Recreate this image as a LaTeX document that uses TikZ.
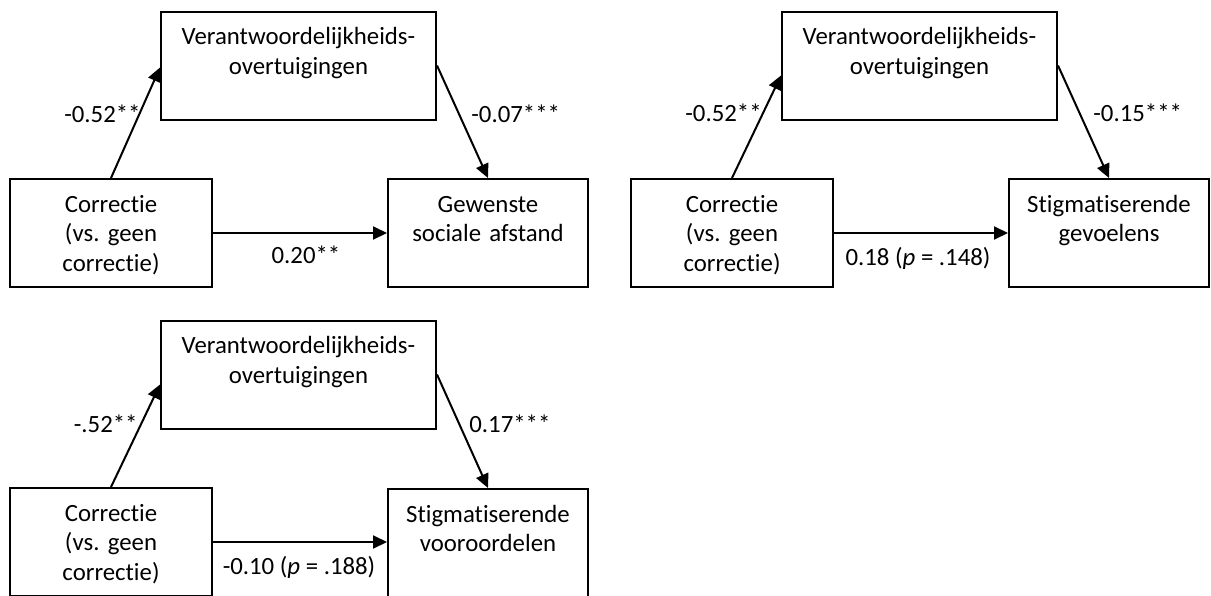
\documentclass[tikz,border=0pt]{standalone}
\usepackage{fontspec}
\setmainfont{Carlito}[Ligatures=NoCommon]
\frenchspacing
\usetikzlibrary{arrows.meta}

\begin{document}
\begin{tikzpicture}[x=0.5pt, y=-0.5pt,
    every node/.style={font=\fontsize{12.4}{14.8}\selectfont},
    varbox/.style={draw, line width=1pt, inner xsep=0pt, inner ysep=0pt, align=center,
        text height=16.5pt, text depth=37.5pt},
    coef/.style={inner sep=0pt, text height=8pt, text depth=0pt},
    effect/.style={line width=1pt, -{Triangle[length=7pt, width=6.5pt]}}]
    \useasboundingbox (0,0) rectangle (1211,595);
    \clip (0,0) rectangle (1211,595);

    \node[varbox, text width=137.5pt] (belief1) at (298.5,65.5) {Verantwoordelijkheids-\\overtuigingen};
    \node[varbox, text width=101pt] (corr1) at (111,233) {Correctie\\(vs. geen\\correctie)};
    \node[varbox, text width=100pt] (dist1) at (488,233) {Gewenste\\sociale afstand};
    \draw[effect] (corr1.north) -- ([yshift=-1pt]belief1.west);
    \draw[effect] (belief1.east) -- (dist1.north);
    \draw[effect] (corr1.east) -- (dist1.west);
    \node[coef, anchor=east] (a1) at (141,114) {-0.52**};
    \node[coef, anchor=west] (b1) at (471,114) {-0.07***};
    \node[coef] (c1) at (306,255) {0.20**};

    \node[varbox, text width=137.5pt] (belief2) at (919.5,65.5) {Verantwoordelijkheids-\\overtuigingen};
    \node[varbox, text width=101pt] (corr2) at (732,233) {Correctie\\(vs. geen\\correctie)};
    \node[varbox, text width=100pt] (feel2) at (1109,233) {Stigmatiserende\\gevoelens};
    \draw[effect] (corr2.north) -- ([yshift=-5pt]belief2.west);
    \draw[effect] (belief2.east) -- (feel2.north);
    \draw[effect] (corr2.east) -- (feel2.west);
    \node[coef, anchor=east] (a2) at (762,113) {-0.52**};
    \node[coef, anchor=west] (b2) at (1093,113) {-0.15***};
    \node[coef] (c2) at (918,257) {0.18 (\textit{p} = .148)};

    \node[varbox, text width=137.5pt] (belief3) at (298.5,374.5) {Verantwoordelijkheids-\\overtuigingen};
    \node[varbox, text width=101pt] (corr3) at (111,542) {Correctie\\(vs. geen\\correctie)};
    \node[varbox, text width=100pt] (prej3) at (488,543) {Stigmatiserende\\vooroordelen};
    \draw[effect] (corr3.north) -- ([yshift=-5pt]belief3.west);
    \draw[effect] (belief3.east) -- (prej3.north);
    \draw[effect] (corr3.east) -- (corr3.east -| prej3.west);
    \node[coef, anchor=east] (a3) at (138,424) {-.52**};
    \node[coef, anchor=west] (b3) at (469,424) {0.17***};
    \node[coef] (c3) at (299,566) {-0.10 (\textit{p} = .188)};
\end{tikzpicture}
\end{document}
